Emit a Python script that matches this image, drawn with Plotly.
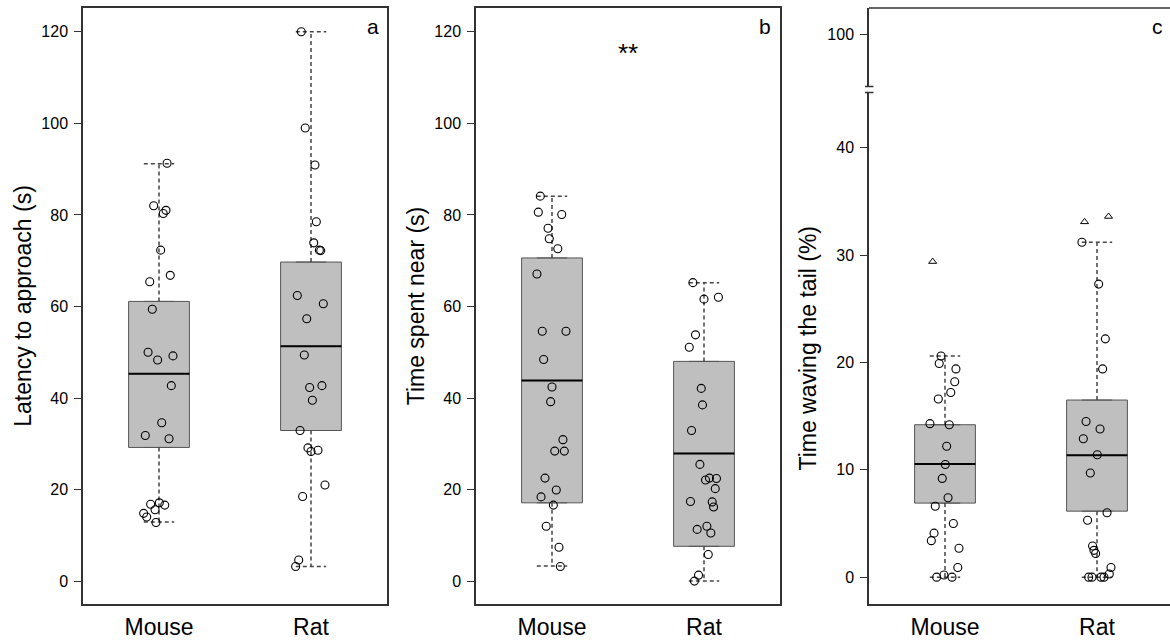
import plotly.graph_objects as go

categories = ["Mouse", "Rat"]
cat_pos = [0, 1]

# ---------- panel a : latency to approach (s) ----------
a_mouse_vals = [91.3, 82.0, 81.0, 80.3, 72.3, 66.8, 65.4, 59.4, 50.0, 48.3, 49.2,
                42.7, 34.6, 31.8, 31.1, 16.8, 17.1, 16.6, 15.6, 14.8, 14.0, 12.8]
a_mouse_jit = [0.053, -0.035, 0.046, 0.028, 0.011, 0.074, -0.061, -0.044, -0.072, -0.009, 0.092,
               0.081, 0.018, -0.090, 0.066, -0.055, 0.002, 0.038, -0.026, -0.101, -0.081, -0.020]
a_rat_vals = [120.0, 99.0, 90.9, 78.5, 73.9, 72.3, 72.2, 62.4, 60.6, 57.3, 49.4,
              42.3, 42.7, 39.5, 32.9, 29.1, 28.3, 28.6, 21.0, 18.5, 4.6, 3.2]
a_rat_jit = [-0.064, -0.038, 0.026, 0.035, 0.018, 0.055, 0.064, -0.090, 0.081, -0.028, -0.044,
             -0.009, 0.072, 0.009, -0.072, -0.020, 0.0, 0.046, 0.092, -0.055, -0.081, -0.101]
a_q1 = [29.2, 32.9]
a_med = [45.3, 51.3]
a_q3 = [61.1, 69.7]
a_low = [12.9, 3.2]
a_high = [91.2, 120.0]

# ---------- panel b : time spent near (s) ----------
b_mouse_vals = [84.1, 80.6, 80.1, 77.1, 74.8, 72.6, 67.1, 54.6, 54.6, 48.4, 42.4,
                39.2, 30.9, 28.4, 28.4, 22.5, 19.9, 18.4, 16.6, 12.0, 7.4, 3.2]
b_mouse_jit = [-0.077, -0.090, 0.064, -0.026, -0.018, 0.038, -0.099, -0.064, 0.092, -0.055, 0.0,
               -0.009, 0.072, 0.018, 0.081, -0.046, 0.028, -0.072, 0.009, -0.038, 0.046, 0.055]
b_rat_vals = [65.2, 61.6, 62.0, 53.8, 51.1, 42.1, 38.5, 32.9, 25.5, 22.1, 22.5,
              22.4, 20.2, 17.4, 17.3, 16.2, 12.0, 11.3, 10.5, 5.8, 1.3, 0.0]
b_rat_jit = [-0.073, 0.0, 0.095, -0.056, -0.097, -0.018, -0.010, -0.082, -0.027, 0.010, 0.036,
             0.082, 0.074, -0.089, 0.054, 0.063, 0.019, -0.045, 0.045, 0.028, -0.036, -0.063]
b_q1 = [17.1, 7.6]
b_med = [43.8, 27.9]
b_q3 = [70.6, 48.0]
b_low = [3.3, 0.0]
b_high = [84.1, 65.2]

# ---------- panel c : time waving the tail (%) ----------
c_mouse_vals = [20.6, 19.9, 19.4, 18.2, 17.2, 16.6, 14.3, 14.2, 12.2, 10.5, 9.2,
                7.4, 6.6, 5.0, 4.1, 3.4, 2.7, 0.9, 0.0, 0.2, 0.0]
c_mouse_jit = [-0.026, -0.038, 0.072, 0.064, 0.038, -0.044, -0.099, 0.028, 0.011, 0.002, -0.018,
               0.020, -0.064, 0.055, -0.072, -0.090, 0.092, 0.084, -0.055, -0.007, 0.046]
c_mouse_out_vals = [29.4]
c_mouse_out_jit = [-0.081]
c_rat_vals = [31.2, 27.3, 22.2, 19.4, 14.5, 13.8, 12.9, 11.4, 9.7, 6.0, 5.3,
              2.9, 2.5, 2.2, 0.9, 0.3, 0.0, 0.0, 0.0, 0.0]
c_rat_jit = [-0.099, 0.011, 0.055, 0.037, -0.072, 0.020, -0.090, 0.002, -0.044, 0.066, -0.062,
             -0.029, -0.020, -0.009, 0.092, 0.081, -0.055, -0.033, 0.026, 0.046]
c_rat_out_vals = [33.1, 33.6]
c_rat_out_jit = [-0.082, 0.076]
c_q1 = [6.9, 6.15]
c_med = [10.55, 11.35]
c_q3 = [14.2, 16.5]
c_low = [0.0, 0.0]
c_high = [20.6, 31.2]

# ---------- styling ----------
FONT = "Liberation Sans, Arial, sans-serif"
BOX_FILL = "#bfbfbf"
BOX_LINE = "#555555"
WHISK = "#444444"
AXC = "#333333"
BOX_W = 0.4
CAP_HW = 0.1

fig = go.Figure()


def add_panel(xa, ya, q1, med, q3, low, high, groups, outliers=()):
    fig.add_trace(go.Box(
        x=cat_pos, q1=q1, median=med, q3=q3, lowerfence=q1, upperfence=q3,
        width=BOX_W, fillcolor=BOX_FILL, line=dict(color=BOX_LINE, width=1),
        boxpoints=False, xaxis=xa, yaxis=ya, hoverinfo="skip"))
    wx, wy, mx, my = [], [], [], []
    for p, a, m, b, lo, hi in zip(cat_pos, q1, med, q3, low, high):
        wx += [p, p, None, p, p, None, p - CAP_HW, p + CAP_HW, None, p - CAP_HW, p + CAP_HW, None]
        wy += [b, hi, None, a, lo, None, hi, hi, None, lo, lo, None]
        mx += [p - BOX_W / 2, p + BOX_W / 2, None]
        my += [m, m, None]
    fig.add_trace(go.Scatter(x=wx, y=wy, mode="lines", xaxis=xa, yaxis=ya,
                             line=dict(color=WHISK, width=1.5, dash="4px,3px"),
                             hoverinfo="skip"))
    fig.add_trace(go.Scatter(x=mx, y=my, mode="lines", xaxis=xa, yaxis=ya,
                             line=dict(color="black", width=2), hoverinfo="skip"))
    for p, vals, jit in groups:
        fig.add_trace(go.Scatter(
            x=[p + j for j in jit], y=vals, mode="markers", xaxis=xa, yaxis=ya,
            marker=dict(symbol="circle-open", size=8, color="black", line=dict(width=1.1))))
    for p, vals, jit in outliers:
        fig.add_trace(go.Scatter(
            x=[p + j for j in jit], y=vals, mode="markers", xaxis=xa, yaxis=ya,
            marker=dict(symbol="triangle-up-open", size=7, color="black", line=dict(width=1))))


add_panel("x", "y", a_q1, a_med, a_q3, a_low, a_high,
          [(0, a_mouse_vals, a_mouse_jit), (1, a_rat_vals, a_rat_jit)])
add_panel("x2", "y2", b_q1, b_med, b_q3, b_low, b_high,
          [(0, b_mouse_vals, b_mouse_jit), (1, b_rat_vals, b_rat_jit)])
add_panel("x3", "y4", c_q1, c_med, c_q3, c_low, c_high,
          [(0, c_mouse_vals, c_mouse_jit), (1, c_rat_vals, c_rat_jit)],
          [(0, c_mouse_out_vals, c_mouse_out_jit), (1, c_rat_out_vals, c_rat_out_jit)])
# empty trace so the upper (broken-axis) segment of panel c is created
fig.add_trace(go.Scatter(x=[], y=[], mode="markers", xaxis="x3", yaxis="y3", hoverinfo="skip"))

L, R, T, B = 83, 0, 8, 37
W, H = 1170, 641
PW, PH = W - L - R, H - T - B


def px_x(px):
    return (px - L) / PW


def px_y(py):
    return (H - B - py) / PH


xdom_a = [px_x(83), px_x(387)]
xdom_b = [px_x(476), px_x(780)]
xdom_c = [px_x(869), 1.0]

xcommon = dict(tickvals=cat_pos, ticktext=categories, ticks="", showline=True,
               linecolor=AXC, linewidth=1.5, showgrid=False, zeroline=False,
               tickfont=dict(size=23, color="black", family=FONT), ticklabelstandoff=2)
ycommon = dict(ticks="outside", ticklen=7, tickwidth=1.2, tickcolor=AXC, showline=True,
               linecolor=AXC, linewidth=1.5, showgrid=False, zeroline=False,
               tickfont=dict(size=16, color="black", family=FONT), automargin=False,
               ticklabelstandoff=3)

fig.update_layout(
    width=W, height=H, margin=dict(l=L, r=R, t=T, b=B),
    paper_bgcolor="white", plot_bgcolor="white", showlegend=False,
    font=dict(family=FONT, color="black"),
    xaxis=dict(domain=xdom_a, anchor="y", range=[-0.5, 1.5], mirror=True, **xcommon),
    yaxis=dict(domain=[0, 1], anchor="x", range=[-5.0, 125.2], tickvals=[0, 20, 40, 60, 80, 100, 120],
               mirror=True, title=dict(text="Latency to approach (s)", font=dict(size=23), standoff=3),
               **ycommon),
    xaxis2=dict(domain=xdom_b, anchor="y2", range=[-0.5, 1.5], mirror=True, **xcommon),
    yaxis2=dict(domain=[0, 1], anchor="x2", range=[-5.0, 125.2], tickvals=[0, 20, 40, 60, 80, 100, 120],
                mirror=True, title=dict(text="Time spent near (s)", font=dict(size=23), standoff=3),
                **ycommon),
    xaxis3=dict(domain=xdom_c, anchor="y4", range=[-0.5, -0.5 + 2 * 301 / 304], **xcommon),
    yaxis3=dict(domain=[px_y(86.5), 1], anchor="x3", range=[95.2, 102.45], tickvals=[100], **ycommon),
    yaxis4=dict(domain=[0, px_y(92.5)], anchor="x3", range=[-2.5, 45.15], tickvals=[0, 10, 20, 30, 40],
                title=dict(text="Time waving the tail (%)", font=dict(size=23), standoff=13),
                **ycommon),
)

# panel c frame top and axis-break marks
fig.add_shape(type="line", xref="paper", yref="paper", x0=xdom_c[0], x1=1.0, y0=1, y1=1,
              line=dict(color=AXC, width=1.5))
for yy in (86.5, 92.5):
    fig.add_shape(type="line", xref="paper", yref="paper", x0=px_x(865), x1=px_x(873.5),
                  y0=px_y(yy), y1=px_y(yy), line=dict(color=AXC, width=1.5))

# panel letters and significance
for txt, px in (("a", 372.5), ("b", 765.3), ("c", 1157)):
    fig.add_annotation(text=txt, x=px_x(px), y=px_y(26), xref="paper", yref="paper",
                       showarrow=False, font=dict(size=21, color="black"),
                       xanchor="center", yanchor="middle")
fig.add_annotation(text="**", x=0.5, y=115.4, xref="x2", yref="y2", showarrow=False,
                   font=dict(size=26, color="black"), xanchor="center", yanchor="middle")

fig.write_html("out.html", config={"displayModeBar": False},
               post_script="document.body.style.margin='0px';document.body.style.overflow='hidden';")
